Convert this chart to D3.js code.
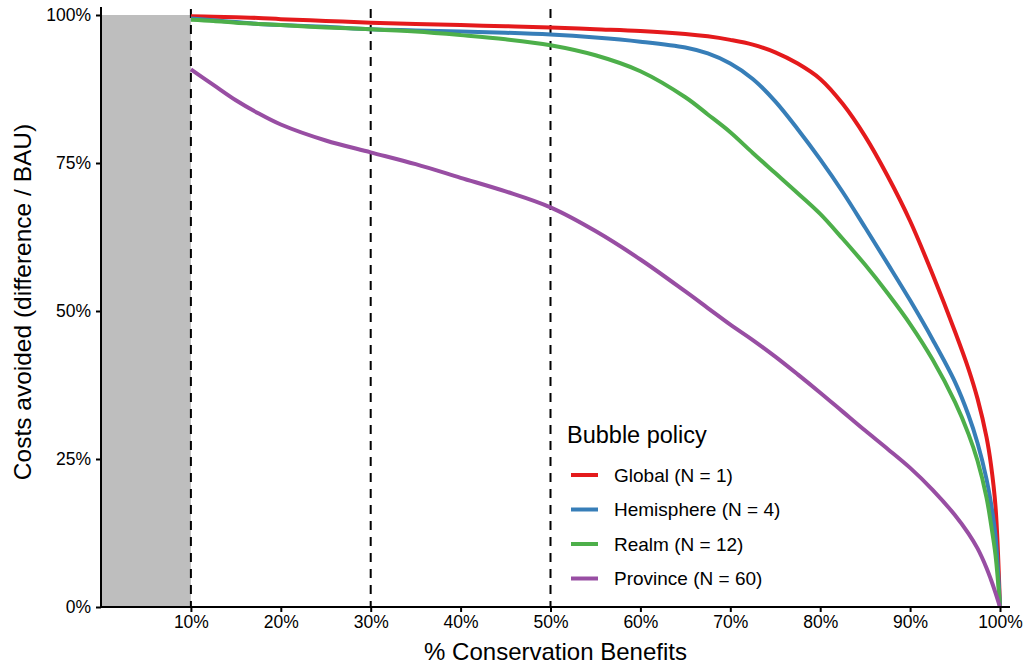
<!DOCTYPE html>
<html>
<head>
<meta charset="utf-8">
<script src="https://cdn.jsdelivr.net/npm/d3@7"></script>
<style>
  html, body { margin: 0; padding: 0; background: #fff; }
  svg { display: block; font-family: "Liberation Sans", Arial, sans-serif; }
</style>
</head>
<body>
<svg id="chart" width="1024" height="665"></svg>
<script>
// ---- data ----
const benefits = [0.10,0.125,0.15,0.175,0.20,0.25,0.30,0.35,0.40,0.45,0.50,0.55,0.60,0.65,0.675,0.70,0.725,0.75,0.775,0.80,0.825,0.85,0.875,0.90,0.925,0.95,0.965,0.975,0.985,0.99,0.995,1.0];
const globalVals = [0.998,0.997,0.996,0.995,0.993,0.990,0.987,0.985,0.983,0.981,0.979,0.976,0.973,0.968,0.964,0.958,0.950,0.937,0.918,0.892,0.850,0.795,0.728,0.652,0.562,0.465,0.402,0.352,0.287,0.240,0.170,0.0];
const hemisphereVals = [0.994,0.991,0.988,0.985,0.983,0.980,0.976,0.974,0.972,0.970,0.967,0.962,0.955,0.945,0.935,0.918,0.892,0.854,0.807,0.756,0.701,0.641,0.580,0.518,0.452,0.380,0.324,0.277,0.216,0.175,0.120,0.0];
const realmVals = [0.992,0.990,0.987,0.985,0.983,0.979,0.976,0.972,0.966,0.959,0.949,0.932,0.905,0.861,0.832,0.802,0.767,0.733,0.699,0.664,0.622,0.578,0.530,0.478,0.418,0.346,0.292,0.247,0.185,0.140,0.088,0.0];
const provinceVals = [0.908,0.882,0.856,0.834,0.815,0.788,0.768,0.748,0.725,0.702,0.675,0.635,0.587,0.533,0.505,0.477,0.451,0.423,0.393,0.362,0.330,0.298,0.267,0.235,0.198,0.155,0.124,0.099,0.066,0.046,0.024,0.0];
const seriesNames = ["Global (N = 1)", "Hemisphere (N = 4)", "Realm (N = 12)", "Province (N = 60)"];
const seriesColors = ["#E41A1C", "#377EB8", "#4DAF4A", "#984EA3"];
const xTicks = [0.1,0.2,0.3,0.4,0.5,0.6,0.7,0.8,0.9,1.0];
const yTicks = [0,0.25,0.5,0.75,1.0];
const vlines = [0.1, 0.3, 0.5];
const shadeRange = [0, 0.1];

const allVals = [globalVals, hemisphereVals, realmVals, provinceVals];

// ---- layout ----
const svg = d3.select("#chart");
const x = d3.scaleLinear().domain([0, 1]).range([101, 1000]);
const y = d3.scaleLinear().domain([0, 1]).range([607, 15]);
const panelRight = 1010, panelTop = 7, panelBottom = 607, panelLeft = 101;
const fmt = d => Math.round(d * 100) + "%";

// shaded region
svg.append("rect")
  .attr("x", x(shadeRange[0])).attr("width", x(shadeRange[1]) - x(shadeRange[0]))
  .attr("y", y(1)).attr("height", y(0) - y(1))
  .attr("fill", "#bebebe");

// dashed vertical lines
svg.selectAll("line.vl").data(vlines).enter().append("line")
  .attr("class", "vl")
  .attr("x1", d => x(d)).attr("x2", d => x(d))
  .attr("y1", panelTop + 2).attr("y2", panelBottom)
  .attr("stroke", "#000").attr("stroke-width", 2)
  .attr("stroke-dasharray", "9,7");

// curves
const line = d3.line()
  .x((d, i) => x(benefits[i]))
  .y(d => y(d))
  .curve(d3.curveCatmullRom.alpha(0.5));

svg.selectAll("path.series").data(allVals).enter().append("path")
  .attr("class", "series")
  .attr("d", d => line(d))
  .attr("fill", "none")
  .attr("stroke", (d, i) => seriesColors[i])
  .attr("stroke-width", 4)
  .attr("stroke-linejoin", "round");

// axes
const xAxis = d3.axisBottom(x).tickValues(xTicks).tickFormat(fmt).tickSize(5).tickPadding(4);
const gx = svg.append("g").attr("transform", `translate(0,${panelBottom})`).call(xAxis);
gx.select(".domain").remove();
gx.append("line").attr("x1", panelLeft - 1).attr("x2", panelRight).attr("y1", 0).attr("y2", 0)
  .attr("stroke", "#000").attr("stroke-width", 2);
gx.selectAll(".tick line").attr("stroke", "#000").attr("stroke-width", 2);
gx.selectAll(".tick text").attr("fill", "#000").attr("font-size", "17.5px")
  .attr("font-family", "'Liberation Sans', Arial, sans-serif");

const yAxis = d3.axisLeft(y).tickValues(yTicks).tickFormat(fmt).tickSize(5).tickPadding(5);
const gy = svg.append("g").attr("transform", `translate(${panelLeft},0)`).call(yAxis);
gy.select(".domain").remove();
gy.append("line").attr("x1", 0).attr("x2", 0).attr("y1", panelTop).attr("y2", panelBottom + 1)
  .attr("stroke", "#000").attr("stroke-width", 2);
gy.selectAll(".tick line").attr("stroke", "#000").attr("stroke-width", 2);
gy.selectAll(".tick text").attr("fill", "#000").attr("font-size", "17.5px")
  .attr("font-family", "'Liberation Sans', Arial, sans-serif");

// axis titles
svg.append("text")
  .attr("x", (panelLeft + panelRight) / 2).attr("y", 660)
  .attr("text-anchor", "middle").attr("font-size", "24px").attr("fill", "#000")
  .text("% Conservation Benefits");
svg.append("text")
  .attr("transform", `translate(31,302) rotate(-90)`)
  .attr("text-anchor", "middle").attr("font-size", "24.5px").attr("fill", "#000")
  .text("Costs avoided (difference / BAU)");

// legend
const lg = svg.append("g");
lg.append("text").attr("x", 567).attr("y", 443).attr("font-size", "23.5px").attr("fill", "#000")
  .text("Bubble policy");
const rows = lg.selectAll("g.row").data(seriesNames).enter().append("g")
  .attr("class", "row")
  .attr("transform", (d, i) => `translate(0,${475 + i * 34.5})`);
rows.append("line").attr("x1", 571).attr("x2", 598).attr("y1", 0).attr("y2", 0)
  .attr("stroke", (d, i) => seriesColors[i]).attr("stroke-width", 4);
rows.append("text").attr("x", 614).attr("y", 0).attr("dy", "0.35em")
  .attr("font-size", "19px").attr("fill", "#000").text(d => d);
</script>
</body>
</html>
